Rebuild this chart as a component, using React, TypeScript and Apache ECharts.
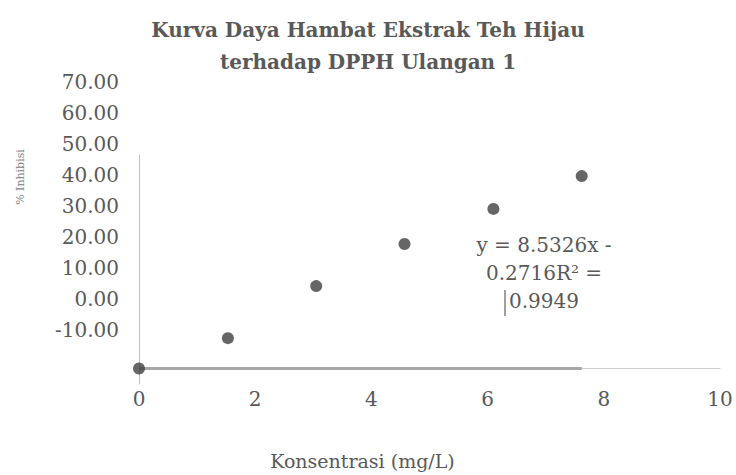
import React, { useEffect, useRef } from "react";
import * as echarts from "echarts";

// Data
const CONC = [0, 1.53, 3.05, 4.57, 6.1, 7.62]; // Konsentrasi (mg/L)
const INHIB = [0, 9.8, 26.6, 40.2, 51.5, 62.1]; // % Inhibisi
const Y_LABEL_MIN = -20;
const Y_LABEL_MAX = 70;
const Y_LABEL_STEP = 10;
const X_MIN = 0;
const X_MAX = 10;
const X_STEP = 2;
const SLOPE = "8.5326";
const INTERCEPT = "0.2716";
const R2 = "0.9949";

const TITLE = "Kurva Daya Hambat Ekstrak Teh Hijau\nterhadap DPPH Ulangan 1";
const X_NAME = "Konsentrasi (mg/L)";
const Y_NAME = "% Inhibisi";

const FONT = "'DejaVu Serif', serif";
const TXT = "#595959";

export default function App() {
  const ref = useRef<HTMLDivElement>(null);
  useEffect(() => {
    if (!ref.current) return;
    const chart = echarts.init(ref.current, null, { renderer: "svg" });
    const points = CONC.map((x, i) => [x, INHIB[i]]);
    const base = [
      [CONC[0], 0],
      [CONC[CONC.length - 1], 0],
    ];
    chart.setOption({
      animation: false,
      backgroundColor: "#ffffff",
      title: {
        text: TITLE,
        left: "center",
        top: 9,
        textStyle: {
          fontFamily: FONT,
          fontWeight: "bold",
          fontSize: 20,
          lineHeight: 32,
          color: TXT,
        },
      },
      grid: [
        { left: 125, width: 1, top: 82, bottom: 114, outerBoundsMode: "none" },
        { left: 139, right: 16, top: 155, bottom: 91, outerBoundsMode: "none" },
      ],
      xAxis: [
        { gridIndex: 0, type: "value", show: false, min: 0, max: 1 },
        {
          gridIndex: 1,
          type: "value",
          min: X_MIN,
          max: X_MAX,
          interval: X_STEP,
          name: X_NAME,
          nameLocation: "middle",
          nameGap: 67,
          nameTextStyle: {
            fontFamily: FONT,
            fontSize: 19,
            color: TXT,
            padding: [0, 134, 0, 0],
          },
          axisLine: { onZero: true, lineStyle: { color: "#d0d0d0", width: 1 } },
          axisTick: { show: false },
          splitLine: { show: false },
          axisLabel: { margin: 5, fontFamily: FONT, fontSize: 20, color: TXT },
        },
      ],
      yAxis: [
        {
          gridIndex: 0,
          type: "value",
          min: Y_LABEL_MIN,
          max: Y_LABEL_MAX,
          interval: Y_LABEL_STEP,
          axisLine: { show: false },
          axisTick: { show: false },
          splitLine: { show: false },
          axisLabel: {
            margin: 6,
            fontFamily: FONT,
            fontSize: 20,
            color: TXT,
            formatter: (v: number) => (v === Y_LABEL_MIN ? "" : v.toFixed(2)),
          },
        },
        {
          gridIndex: 1,
          type: "value",
          min: -5,
          max: 68.9,
          axisLine: { show: true, lineStyle: { color: "#bfbfbf", width: 1 } },
          axisTick: { show: false },
          splitLine: { show: false },
          axisLabel: { show: false },
        },
      ],
      graphic: [
        {
          type: "text",
          x: 20,
          y: 177,
          rotation: Math.PI / 2,
          style: {
            text: Y_NAME,
            fontFamily: FONT,
            fontSize: 11,
            fill: "#7f7f7f",
            align: "center",
            verticalAlign: "middle",
          },
        },
        {
          type: "text",
          x: 544,
          y: 231,
          style: {
            text: `y = ${SLOPE}x -\n${INTERCEPT}R² =\n${R2}`,
            fontFamily: FONT,
            fontSize: 20,
            lineHeight: 28,
            fill: TXT,
            align: "center",
            verticalAlign: "top",
          },
        },
        {
          type: "line",
          shape: { x1: 505, y1: 290, x2: 505, y2: 316 },
          style: { stroke: "#404040", lineWidth: 1 },
        },
      ],
      series: [
        {
          type: "line",
          xAxisIndex: 1,
          yAxisIndex: 1,
          data: base,
          symbol: "none",
          lineStyle: { color: "#a6a6a6", width: 3 },
          z: 1,
          silent: true,
        },
        {
          type: "scatter",
          xAxisIndex: 1,
          yAxisIndex: 1,
          data: points,
          symbol: "circle",
          symbolSize: 12,
          itemStyle: { color: "#404040" },
          z: 3,
        },
      ],
    });
    return () => chart.dispose();
  }, []);
  return (
    <div
      ref={ref}
      style={{ position: "fixed", left: 0, top: 0, width: 736, height: 475 }}
    />
  );
}
